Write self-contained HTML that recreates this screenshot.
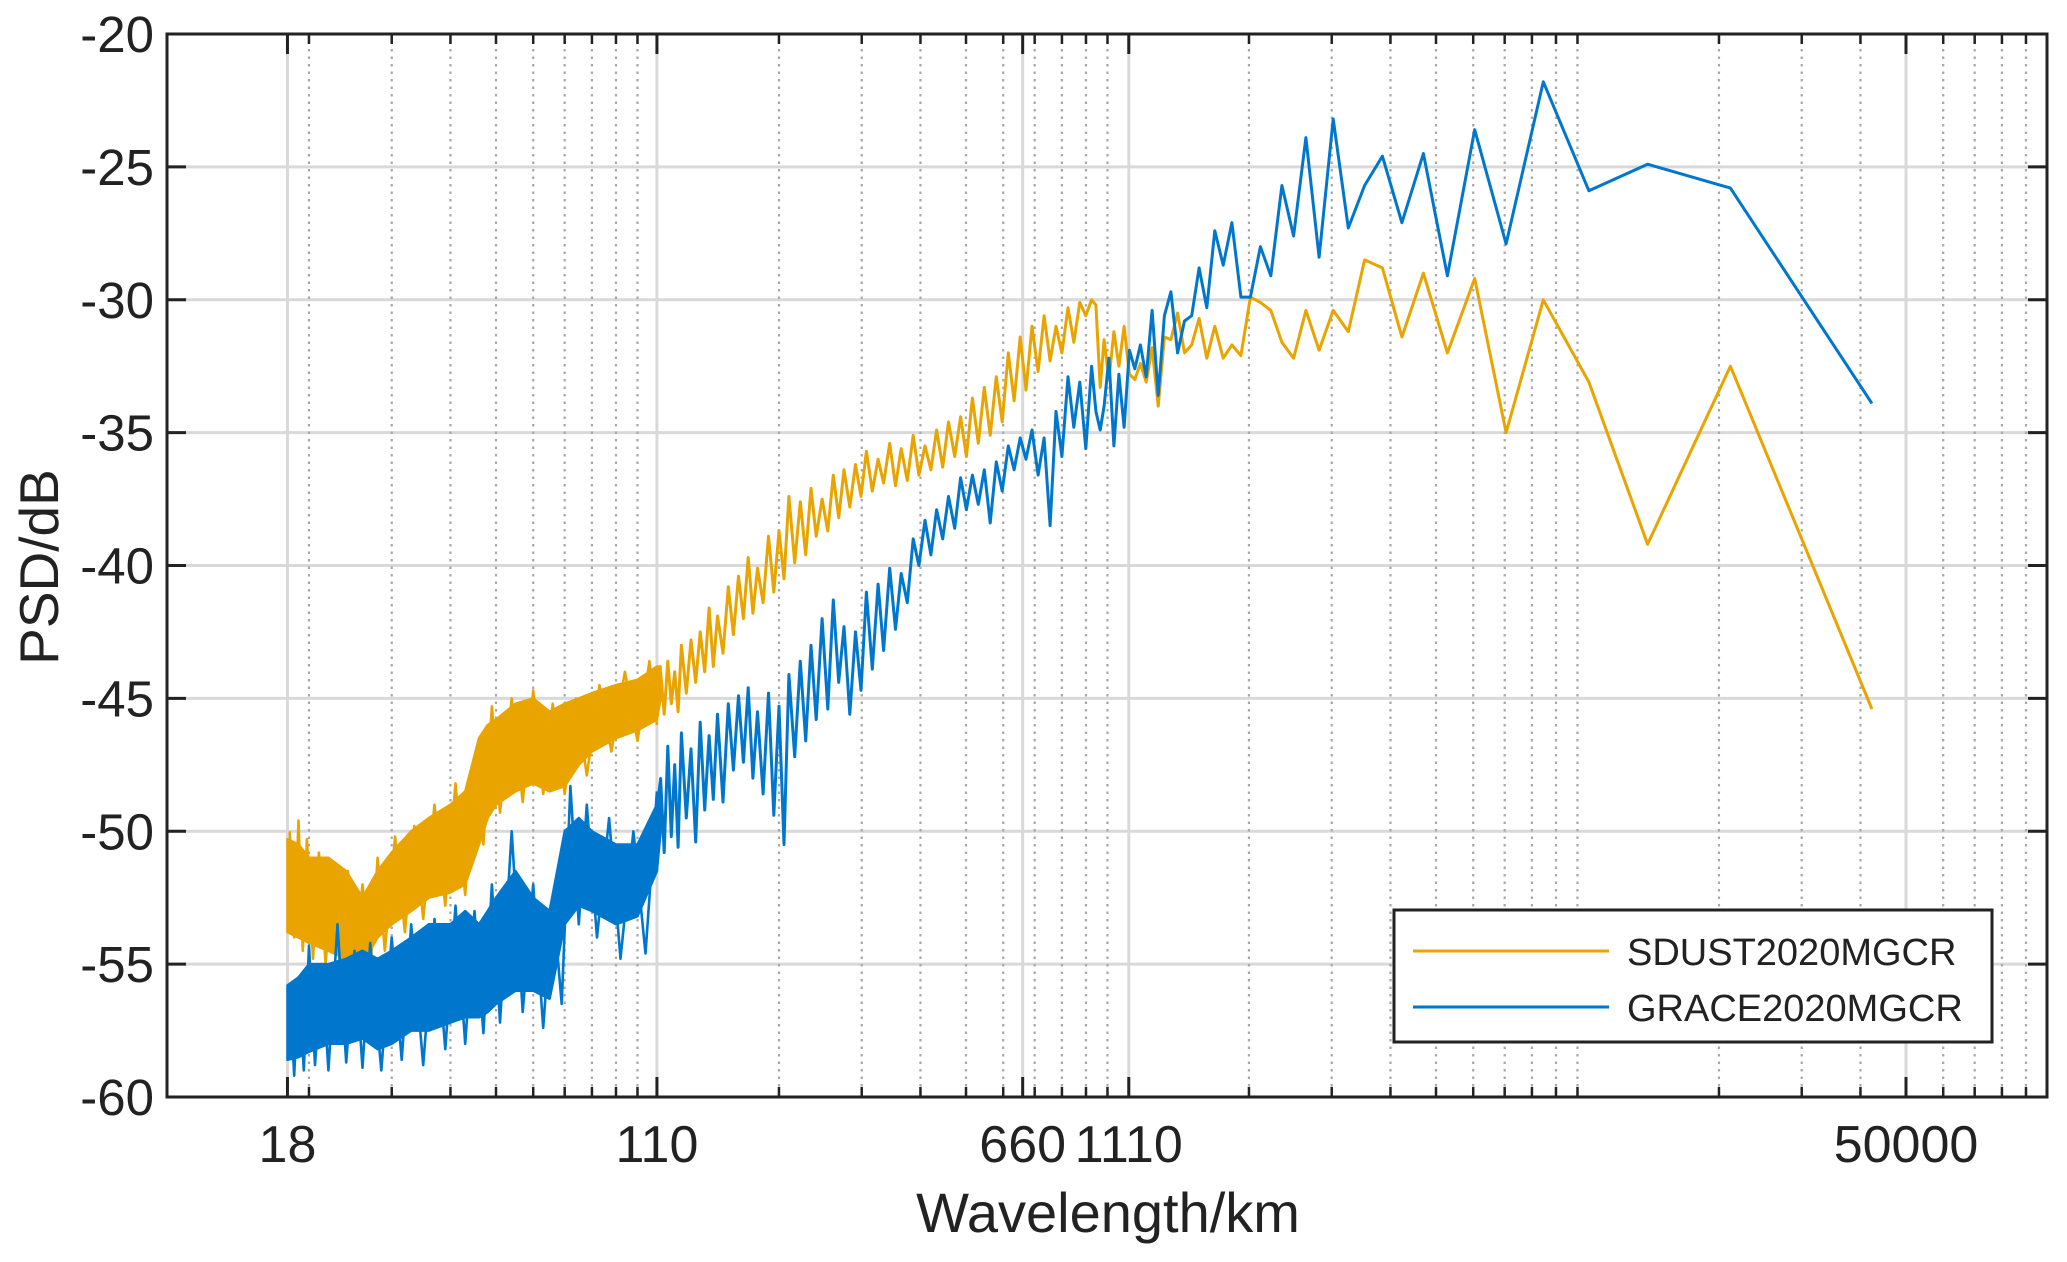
<!DOCTYPE html>
<html><head><meta charset="utf-8"><style>
html,body{margin:0;padding:0;background:#fff;}
svg{display:block;font-family:"Liberation Sans",Arial,sans-serif;}
</style></head><body>
<svg id="chart" width="2067" height="1262" viewBox="0 0 2067 1262" xmlns="http://www.w3.org/2000/svg">
<rect x="0" y="0" width="2067" height="1262" fill="#fff"/>
<g id="grid"></g>
<g id="series"></g>
<g id="axes"></g>
<text x="0" y="0" font-size="55" fill="#222" text-anchor="middle" transform="translate(58,567) rotate(-90)">PSD/dB</text>
<text x="1108" y="1232" font-size="56" fill="#222" text-anchor="middle">Wavelength/km</text>
<g>
<rect x="1394" y="910" width="598" height="132" fill="#fff" stroke="#222" stroke-width="3"/>
<line x1="1413" y1="951" x2="1609" y2="951" stroke="#E9A400" stroke-width="3"/>
<text x="1627" y="965" font-size="38" fill="#222">SDUST2020MGCR</text>
<line x1="1413" y1="1007" x2="1609" y2="1007" stroke="#0077CC" stroke-width="3"/>
<text x="1627" y="1021" font-size="38" fill="#222">GRACE2020MGCR</text>
</g>
</svg>
<script>
// ---- data ----
const yTicks = [-20,-25,-30,-35,-40,-45,-50,-55,-60];
const xTickValues = [18,110,660,1110,50000];
const xTickLabels = ["18","110","660","1110","50000"];
const lowDegrees = [1,2,3,4,5,6,7,8,9,10,11,12,13,14,15,16,17,18,19,20,21,22,23,24,25,26,27,28,29,30,31,32,33,34,35,36,37,38,39,40,41,42,43];
const sdustLow = [-45.4,-32.5,-39.2,-33.1,-30.0,-35.0,-29.2,-32.0,-29.0,-31.4,-28.8,-28.5,-31.2,-30.4,-31.9,-30.4,-32.2,-31.6,-30.4,-30.1,-29.9,-32.1,-31.7,-32.2,-31.0,-32.2,-30.7,-31.7,-32.0,-30.5,-31.5,-31.4,-34.0,-31.8,-33.1,-32.4,-33.0,-32.8,-31.0,-32.5,-31.2,-33.0,-31.5];
const graceLow = [-33.9,-25.8,-24.9,-25.9,-21.8,-27.9,-23.6,-29.1,-24.5,-27.1,-24.6,-25.7,-27.3,-23.2,-28.4,-23.9,-27.6,-25.7,-29.1,-28.0,-29.9,-29.9,-27.1,-28.7,-27.4,-30.3,-28.8,-30.6,-30.8,-32.0,-29.7,-30.6,-33.6,-30.4,-32.9,-31.7,-32.6,-31.9,-34.8,-32.8,-35.5,-32.2,-34.0];
const midWavelengths = [112,114,116,118,120,122,124,127,130,133,136,139,142,145,148,152,156,160,164,168,172,176,180,185,190,195,200,205,210,216,222,228,234,240,247,254,261,268,275,283,291,299,307,316,325,334,344,354,364,375,386,397,409,421,433,446,459,473,487,501,516,531,547,563,580,597,615,633,652,671,691,712,733,755,777,800,824,848,873,899,925,945,965];
const sdustMid = [-44.0,-45.6,-43.6,-45.2,-44.0,-45.5,-43.0,-44.8,-42.8,-44.4,-42.5,-44.0,-41.6,-43.8,-41.9,-43.3,-40.8,-42.6,-40.4,-42.0,-39.7,-41.8,-40.1,-41.4,-38.9,-41.0,-38.7,-40.5,-37.4,-39.9,-37.6,-39.6,-37.1,-38.9,-37.5,-38.7,-36.6,-38.2,-36.4,-37.8,-36.2,-37.4,-35.7,-37.2,-36.0,-36.9,-35.4,-37.0,-35.6,-36.8,-35.1,-36.6,-35.5,-36.4,-34.9,-36.3,-34.6,-35.9,-34.4,-35.9,-33.7,-35.4,-33.3,-35.1,-32.9,-34.6,-32.0,-33.8,-31.4,-33.4,-31.0,-32.7,-30.6,-32.3,-31.0,-32.0,-30.3,-31.6,-30.1,-30.6,-30.0,-30.2,-33.3];
const graceMid = [-48.0,-50.8,-46.8,-50.2,-47.5,-50.6,-46.3,-49.5,-46.9,-50.4,-45.9,-49.2,-46.4,-48.8,-45.6,-48.9,-45.2,-47.7,-44.9,-47.4,-44.6,-48.0,-45.5,-48.6,-44.8,-49.4,-45.3,-50.5,-44.1,-47.2,-43.6,-46.6,-43.0,-45.8,-42.0,-45.4,-41.3,-44.4,-42.3,-45.6,-42.5,-44.7,-41.0,-43.9,-40.7,-43.2,-40.1,-42.4,-40.3,-41.4,-39.0,-40.0,-38.3,-39.6,-37.9,-39.0,-37.4,-38.6,-36.7,-37.9,-36.6,-37.7,-36.4,-38.4,-36.1,-37.2,-35.5,-36.4,-35.2,-36.0,-34.9,-36.6,-35.2,-38.5,-34.2,-35.9,-32.9,-34.8,-33.1,-35.6,-32.5,-34.2,-34.9];
const bandWavelengths = [18,19,20,22,24,26,28,30,33,36,40,43,46,48,50,55,60,65,70,75,80,90,100,110,112];
const sdustBandUpper = [-50.3,-50.5,-51.0,-51.0,-51.5,-52.5,-51.5,-50.8,-50.0,-49.5,-49.0,-48.5,-46.5,-46.0,-45.8,-45.2,-45.0,-45.5,-45.2,-45.0,-44.8,-44.5,-44.3,-43.8,-43.8];
const sdustBandLower = [-53.8,-54.0,-54.2,-54.5,-54.8,-55.0,-54.0,-53.5,-53.0,-52.5,-52.3,-52.0,-50.5,-49.5,-49.0,-48.5,-48.2,-48.5,-48.3,-47.5,-47.0,-46.5,-46.2,-45.8,-45.0];
const graceBandUpper = [-55.8,-55.5,-55.0,-55.0,-54.8,-54.5,-54.8,-54.5,-54.0,-53.5,-53.5,-53.0,-53.5,-53.0,-52.5,-51.5,-52.5,-53.0,-50.0,-49.5,-50.0,-50.5,-50.5,-49.0,-48.0];
const graceBandLower = [-58.6,-58.5,-58.3,-58.0,-58.0,-57.8,-58.2,-58.0,-57.5,-57.5,-57.2,-57.0,-57.0,-56.8,-56.5,-56.0,-56.0,-56.3,-53.5,-52.8,-53.0,-53.5,-53.2,-51.5,-50.0];
const sdustSpikeWl = [18.2,18.6,19.0,19.4,19.8,20.4,21.0,21.7,22.5,23.3,24.2,25.0,26.0,27.0,28.0,29.0,30.5,32.0,33.5,35,37,39,41,43,45,47,49,51,54,57,60,63,66,70,74,78,83,88,94,100,106,110];
const sdustSpikeVal = [-50.0,-54.0,-49.6,-54.5,-50.3,-54.8,-50.8,-55.0,-51.2,-55.2,-51.5,-55.4,-52.0,-55.3,-51.0,-54.5,-50.2,-53.8,-49.8,-53.3,-49.0,-52.8,-48.2,-52.4,-47.5,-50.5,-45.3,-49.3,-45.0,-48.9,-44.7,-48.6,-45.2,-48.6,-45.0,-47.9,-44.5,-47.0,-44.0,-46.6,-43.6,-46.0];
const graceSpikeWl = [18.2,18.6,19.0,19.5,20.0,20.6,21.3,22.0,23,24,25,26,27,28.5,30,31.5,33,35,37,39,41,43,45,47,49,51,54,57,60,63,66,69,72,75,78,82,87,92,98,104,110];
const graceSpikeVal = [-56.0,-59.2,-55.5,-59.0,-54.3,-58.8,-55.0,-59.0,-53.5,-58.7,-54.5,-58.9,-54.2,-59.0,-54.0,-58.6,-53.5,-58.8,-53.3,-58.2,-52.8,-58.0,-53.0,-57.6,-52.0,-57.2,-50.0,-56.8,-52.0,-57.4,-52.5,-56.5,-48.3,-53.5,-49.0,-54.0,-49.5,-54.8,-50.0,-54.6,-48.5];

// ---- scales ----
const L=167,R=2047,T=34,B=1097;
const X = w => 1906 + (Math.log10(w) - Math.log10(50000)) * 470;
const Y = v => T + (-20 - v) * (B - T) / 40;
const wlOfDegree = n => 42300 / n;
const NS="http://www.w3.org/2000/svg";
function mk(tag, attrs, parent){const e=document.createElementNS(NS,tag);for(const k in attrs)e.setAttribute(k,attrs[k]);parent.appendChild(e);return e;}
const grid=document.getElementById('grid'), ser=document.getElementById('series'), axes=document.getElementById('axes');

// grid
yTicks.forEach(v=>{
  const g=mk('line',{x1:L,x2:R,y1:Y(v),y2:Y(v),stroke:'#d9d9d9','stroke-width':3},grid);
  
  
});
const minorVals=[];
for(let d=10;d<100000;d*=10){for(let m=1;m<=9;m++){minorVals.push(d*m);}}
minorVals.forEach(w=>{
  if(w<=10||w>=100000) return;
  const g=mk('line',{x1:X(w),x2:X(w),y1:T,y2:B,stroke:'#a8a8a8','stroke-width':2.2,'stroke-dasharray':'2.5,5'},grid);
  
  
});
xTickValues.forEach(w=>{
  const g=mk('line',{x1:X(w),x2:X(w),y1:T,y2:B,stroke:'#d9d9d9','stroke-width':3},grid);
  
  
});

// series
function band(wl,up,lo,color,name){
  let d='';
  wl.forEach((w,i)=>{d+=(i?'L':'M')+X(w).toFixed(1)+','+Y(up[i]).toFixed(1);});
  for(let i=wl.length-1;i>=0;i--){d+='L'+X(wl[i]).toFixed(1)+','+Y(lo[i]).toFixed(1);}
  const p=mk('path',{d:d+'Z',fill:color,stroke:color,'stroke-width':2.5,'stroke-linejoin':'round'},ser);
  
  
}
function line(pts,color,name,w){
  const d=pts.map((p,i)=>(i?'L':'M')+X(p[0]).toFixed(1)+','+Y(p[1]).toFixed(1)).join('');
  const p=mk('path',{d:d,fill:'none',stroke:color,'stroke-width':w||3,'stroke-linejoin':'round'},ser);
  
  
}
function build(color,bu,bl,spW,spV,mid,low,prefix){
  band(bandWavelengths,bu,bl,color,prefix+'-dense-band');
  const sp=spW.map((w,i)=>[w,spV[i]]);
  line(sp,color,prefix+'-noise-spikes',2.6);
  const pts=[];
  midWavelengths.forEach((w,i)=>pts.push([w,mid[i]]));
  for(let i=lowDegrees.length-1;i>=0;i--) pts.push([wlOfDegree(lowDegrees[i]),low[i]]);
  line(pts,color,prefix+'-line');
}
build('#E9A400',sdustBandUpper,sdustBandLower,sdustSpikeWl,sdustSpikeVal,sdustMid,sdustLow,'sdust2020mgcr');
build('#0077CC',graceBandUpper,graceBandLower,graceSpikeWl,graceSpikeVal,graceMid,graceLow,'grace2020mgcr');

// axes box
const box=mk('rect',{x:L,y:T,width:R-L,height:B-T,fill:'none',stroke:'#222','stroke-width':3},axes);


yTicks.forEach(v=>{
  const a=mk('line',{x1:L,x2:L+19,y1:Y(v),y2:Y(v),stroke:'#222','stroke-width':3},axes);
  
  
  const b=mk('line',{x1:R-19,x2:R,y1:Y(v),y2:Y(v),stroke:'#222','stroke-width':3},axes);
  
  
  const t=mk('text',{x:154,y:Y(v)+18,'font-size':51,'text-anchor':'end',fill:'#222'},axes);
  t.textContent=String(v);
  
  
});
minorVals.forEach(w=>{
  if(w<=10||w>=100000) return;
  [[B,B-10],[T,T+10]].forEach(([a,b])=>{
    const m=mk('line',{x1:X(w),x2:X(w),y1:a,y2:b,stroke:'#222','stroke-width':2.5},axes);
    
    
  });
});
xTickValues.forEach((w,i)=>{
  [[B,B-20],[T,T+20]].forEach(([a,b])=>{
    const m=mk('line',{x1:X(w),x2:X(w),y1:a,y2:b,stroke:'#222','stroke-width':3},axes);
    
    
  });
  const t=mk('text',{x:X(w),y:1162,'font-size':52,'text-anchor':'middle',fill:'#222'},axes);
  t.textContent=xTickLabels[i];
  
  
});
</script>
</body></html>
